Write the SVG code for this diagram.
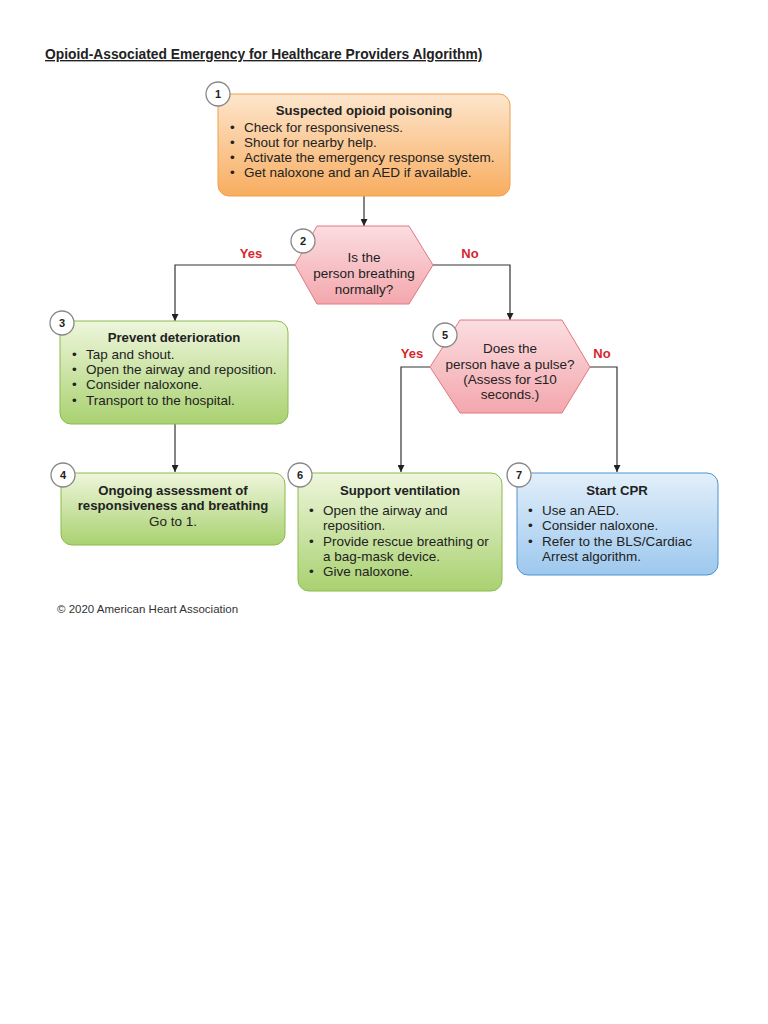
<svg xmlns="http://www.w3.org/2000/svg" width="768" height="1024" viewBox="0 0 768 1024">
<defs>
<linearGradient id="gOr" x1="0" y1="0" x2="0" y2="1"><stop offset="0" stop-color="#fde6cd"/><stop offset="1" stop-color="#f8ad60"/></linearGradient>
<linearGradient id="gGr" x1="0" y1="0" x2="0" y2="1"><stop offset="0" stop-color="#eef6dc"/><stop offset="1" stop-color="#a9d170"/></linearGradient>
<linearGradient id="gPk" x1="0" y1="0" x2="0" y2="1"><stop offset="0" stop-color="#fbdde0"/><stop offset="1" stop-color="#f3a7ad"/></linearGradient>
<linearGradient id="gBl" x1="0" y1="0" x2="0" y2="1"><stop offset="0" stop-color="#e2effa"/><stop offset="1" stop-color="#9dc8ee"/></linearGradient>
<marker id="ah" viewBox="0 0 10 10" refX="10" refY="5" markerWidth="7" markerHeight="7" orient="auto" markerUnits="userSpaceOnUse"><path d="M0,0 L10,5 L0,10 z" fill="#222"/></marker>
</defs>
<style>
text{font-family:"Liberation Sans",Arial,sans-serif;fill:#222}
.t{font-size:13.2px;font-weight:bold;text-anchor:middle}
.b{font-size:13.5px}
.c{font-size:13.5px;text-anchor:middle}
.n{font-size:11px;font-weight:bold;text-anchor:middle}
.yn{font-size:13px;font-weight:bold;fill:#d7262e;text-anchor:middle}
.num{fill:#fff;stroke:#888;stroke-width:1.3}
.or{fill:url(#gOr);stroke:#f0a04a;stroke-width:1}
.gr{fill:url(#gGr);stroke:#8cbb4c;stroke-width:1}
.pk{fill:url(#gPk);stroke:#e07880;stroke-width:1}
.bl{fill:url(#gBl);stroke:#4f93d2;stroke-width:1}
.ln{fill:none;stroke:#333;stroke-width:1.2}
</style>
<rect width="768" height="1024" fill="#fff"/>
<text x="45" y="59" style="font-size:13.8px;font-weight:bold;text-decoration:underline">Opioid-Associated Emergency for Healthcare Providers Algorithm)</text>

<g id="connectors">
<path class="ln" d="M364,196 V226" marker-end="url(#ah)"/>
<path class="ln" d="M295,265 H175 V321" marker-end="url(#ah)"/>
<path class="ln" d="M433,265 H510 V320" marker-end="url(#ah)"/>
<path class="ln" d="M175,424 V472" marker-end="url(#ah)"/>
<path class="ln" d="M430,367 H401 V472" marker-end="url(#ah)"/>
<path class="ln" d="M590,367 H617 V472" marker-end="url(#ah)"/>
<text class="yn" x="251" y="258">Yes</text>
<text class="yn" x="470" y="258">No</text>
<text class="yn" x="412" y="358">Yes</text>
<text class="yn" x="602" y="358">No</text>
</g>

<g id="node1">
<rect class="or" x="218" y="94" width="292" height="102" rx="11"/>
<text class="t" x="364" y="115">Suspected opioid poisoning</text>
<g class="b">
<text class="b" x="230" y="132">•</text><text class="b" x="244" y="132">Check for responsiveness.</text>
<text class="b" x="230" y="147">•</text><text class="b" x="244" y="147">Shout for nearby help.</text>
<text class="b" x="230" y="162">•</text><text class="b" x="244" y="162">Activate the emergency response system.</text>
<text class="b" x="230" y="177">•</text><text class="b" x="244" y="177">Get naloxone and an AED if available.</text>
</g>
<circle class="num" cx="218" cy="94" r="12"/><text class="n" x="218" y="98">1</text>
</g>

<g id="node2">
<polygon class="pk" points="317,226 409,226 433,265 409,304 317,304 295,265"/>
<text class="c" x="364" y="262">Is the</text>
<text class="c" x="364" y="278">person breathing</text>
<text class="c" x="364" y="294">normally?</text>
<circle class="num" cx="303" cy="241" r="12"/><text class="n" x="303" y="245">2</text>
</g>

<g id="node3">
<rect class="gr" x="60" y="321" width="228" height="103" rx="11"/>
<text class="t" x="174" y="342">Prevent deterioration</text>
<text class="b" x="72" y="359">•</text><text class="b" x="86" y="359">Tap and shout.</text>
<text class="b" x="72" y="374">•</text><text class="b" x="86" y="374">Open the airway and reposition.</text>
<text class="b" x="72" y="389">•</text><text class="b" x="86" y="389">Consider naloxone.</text>
<text class="b" x="72" y="405">•</text><text class="b" x="86" y="405">Transport to the hospital.</text>
<circle class="num" cx="62" cy="323" r="12"/><text class="n" x="62" y="327">3</text>
</g>

<g id="node4">
<rect class="gr" x="61" y="473" width="224" height="72" rx="11"/>
<text class="t" x="173" y="495">Ongoing assessment of</text>
<text class="t" x="173" y="510">responsiveness and breathing</text>
<text class="c" x="173" y="526">Go to 1.</text>
<circle class="num" cx="63" cy="475" r="12"/><text class="n" x="63" y="479">4</text>
</g>

<g id="node5">
<polygon class="pk" points="460,320 562,320 590,367 562,413 460,413 430,367"/>
<text class="c" x="510" y="353">Does the</text>
<text class="c" x="510" y="369">person have a pulse?</text>
<text class="c" x="510" y="384">(Assess for ≤10</text>
<text class="c" x="510" y="399">seconds.)</text>
<circle class="num" cx="445" cy="335" r="12"/><text class="n" x="445" y="339">5</text>
</g>

<g id="node6">
<rect class="gr" x="298" y="473" width="204" height="118" rx="11"/>
<text class="t" x="400" y="495">Support ventilation</text>
<text class="b" x="309" y="515">•</text><text class="b" x="323" y="515">Open the airway and</text>
<text class="b" x="323" y="530">reposition.</text>
<text class="b" x="309" y="546">•</text><text class="b" x="323" y="546">Provide rescue breathing or</text>
<text class="b" x="323" y="561">a bag-mask device.</text>
<text class="b" x="309" y="576">•</text><text class="b" x="323" y="576">Give naloxone.</text>
<circle class="num" cx="300" cy="475" r="12"/><text class="n" x="300" y="479">6</text>
</g>

<g id="node7">
<rect class="bl" x="517" y="473" width="201" height="102" rx="11"/>
<text class="t" x="617" y="495">Start CPR</text>
<text class="b" x="528" y="515">•</text><text class="b" x="542" y="515">Use an AED.</text>
<text class="b" x="528" y="530">•</text><text class="b" x="542" y="530">Consider naloxone.</text>
<text class="b" x="528" y="546">•</text><text class="b" x="542" y="546">Refer to the BLS/Cardiac</text>
<text class="b" x="542" y="561">Arrest algorithm.</text>
<circle class="num" cx="519" cy="475" r="12"/><text class="n" x="519" y="479">7</text>
</g>

<text x="57" y="613" style="font-size:11.5px;fill:#333">© 2020 American Heart Association</text>
</svg>
